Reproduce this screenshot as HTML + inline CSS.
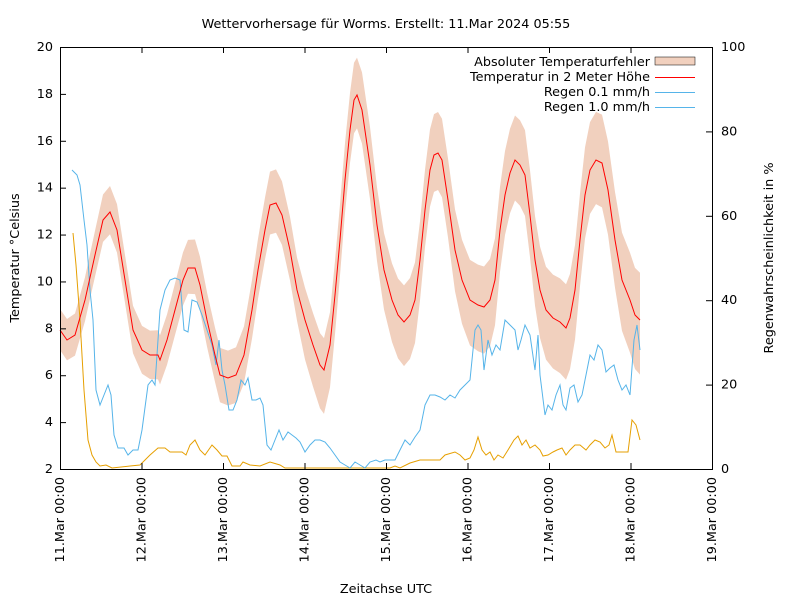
<!DOCTYPE html>
<html><head><meta charset="utf-8"><style>body{margin:0;background:#fff}svg{display:block}text{font-family:"DejaVu Sans","Liberation Sans",sans-serif;font-size:12.8px;fill:#000}</style></head>
<body>
<svg id="s" width="800" height="600" xmlns="http://www.w3.org/2000/svg">
<rect width="800" height="600" fill="#fff"/>
<text x="386" y="28" text-anchor="middle">Wettervorhersage für Worms. Erstellt: 11.Mar 2024 05:55</text>
<g id="band"></g>
<g id="series"></g>
<rect x="60.5" y="47.5" width="652" height="422" fill="none" stroke="#000" stroke-width="1"/>
<g id="ticks" stroke="#000" stroke-width="1"></g>
<g id="labels"></g>
<text transform="translate(19,258) rotate(-90)" text-anchor="middle">Temperatur °Celsius</text>
<text transform="translate(773,258) rotate(-90)" text-anchor="middle">Regenwahrscheinlichkeit in %</text>
<text x="386" y="593" text-anchor="middle">Zeitachse UTC</text>
<text x="650" y="66" text-anchor="end">Absoluter Temperaturfehler</text>
<rect x="655" y="57" width="40" height="8" fill="#f1d0be" stroke="#000" stroke-width="0.5"/>
<text x="650" y="81" text-anchor="end">Temperatur in 2 Meter Höhe</text>
<line x1="655" y1="77.5" x2="695" y2="77.5" stroke="#f00"/>
<text x="650" y="96" text-anchor="end">Regen 0.1 mm/h</text>
<line x1="655" y1="92.5" x2="695" y2="92.5" stroke="#56b4e9"/>
<text x="650" y="111" text-anchor="end">Regen 1.0 mm/h</text>
<line x1="655" y1="107.5" x2="695" y2="107.5" stroke="#56b4e9"/>
</svg>
<script>
var NS="http://www.w3.org/2000/svg";
function el(p,t,a,txt){var e=document.createElementNS(NS,t);for(var k in a)e.setAttribute(k,a[k]);if(txt)e.textContent=txt;document.getElementById(p).appendChild(e);return e;}
var T=[[60,330],[67,340],[75,335],[85,300],[95,255],[103,220],[110,212],[117,230],[125,280],[133,330],[142,350],[150,355],[158,355],[160,360],[167,340],[175,310],[183,280],[188,268],[195,268],[200,285],[207,320],[215,355],[220,375],[228,378],[236,375],[244,355],[252,310],[258,270],[265,230],[270,205],[276,203],[282,215],[290,250],[297,290],[305,320],[313,345],[320,365],[324,370],[330,345],[335,295],[340,240],[345,180],[350,130],[354,100],[357,95],[362,110],[370,165],[377,225],[384,270],[392,300],[398,315],[404,322],[410,315],[415,300],[420,260],[425,210],[430,170],[434,155],[438,153],[442,160],[448,200],[455,250],[462,280],[470,300],[478,305],[484,307],[490,300],[495,280],[500,230],[505,195],[510,173],[515,160],[520,165],[525,175],[530,215],[535,260],[540,290],[546,310],[553,318],[560,322],[566,328],[570,318],[575,290],[580,240],[585,195],[590,170],[596,160],[602,163],[608,190],[615,240],[622,280],[630,300],[635,315],[640,320]];
var up=[],lo=[];
T.forEach(function(p){var d=20+(p[0]-60)*0.045;var tr=(p[1]-200)/170;if(tr<0)tr=0;var ex=(p[0]>300?tr*12:0);up.push(p[0]+","+(p[1]-d-(1-tr)*4));lo.push(p[0]+","+(p[1]+d+ex));});
el("band","polygon",{points:up.join(" ")+" "+lo.reverse().join(" "),fill:"#f1d0be"});
var B="72,170 77,175 80,185 84,220 87,245 90,290 93,320 96,390 100,405 104,395 108,385 111,395 114,435 118,448 124,448 128,455 133,450 138,450 142,430 148,385 152,380 155,385 160,310 165,290 170,280 175,278 180,280 184,330 188,332 192,300 197,302 202,315 207,330 212,345 216,365 219,340 222,370 225,385 229,410 233,410 237,400 241,380 245,385 248,378 252,400 256,400 260,398 263,405 267,445 271,450 275,440 279,430 283,440 288,432 292,435 296,438 300,442 305,452 310,445 315,440 320,440 325,442 330,448 335,455 340,462 345,465 350,468 355,462 360,465 365,468 370,462 376,460 380,462 385,460 395,460 400,450 405,440 410,445 415,437 420,430 425,405 430,395 435,395 440,397 445,400 450,395 455,398 460,390 465,385 470,380 475,330 478,325 481,330 484,370 488,340 492,355 496,345 500,350 505,320 510,325 515,330 518,350 521,340 525,325 530,335 535,370 538,335 540,375 545,415 548,405 552,410 556,395 560,385 563,405 566,410 570,388 574,385 578,402 582,395 586,375 590,355 594,360 598,345 602,350 606,372 610,368 614,365 618,380 622,390 626,385 630,395 634,340 637,325 640,350";
var O="73,233 76,265 80,320 84,390 88,440 92,455 96,462 100,466 106,465 112,468 130,466 140,465 150,455 158,448 165,448 170,452 182,452 186,455 190,445 195,440 200,450 205,455 212,445 217,450 222,456 227,456 232,466 240,466 243,462 250,465 260,466 270,462 280,465 285,468 390,468 395,466 400,468 410,463 420,460 440,460 445,455 455,452 460,455 465,460 470,458 474,450 478,437 482,450 486,455 490,452 494,460 498,455 503,458 508,450 514,440 518,436 522,445 526,440 530,448 535,445 540,450 543,456 548,455 553,452 557,450 562,448 566,455 570,450 575,445 580,445 586,450 590,445 595,440 600,442 605,448 609,445 612,435 616,452 628,452 632,420 636,425 640,440";
el("series","polyline",{points:O,fill:"none",stroke:"#e69f00","stroke-width":1});
el("series","polyline",{points:B,fill:"none",stroke:"#56b4e9","stroke-width":1});
el("series","polyline",{points:T.map(function(p){return p.join(",")}).join(" "),fill:"none",stroke:"#f00","stroke-width":1});
for(var v=2;v<=20;v+=2){var y=469-(v-2)*422/18;el("ticks","line",{x1:60,x2:66,y1:y+.5,y2:y+.5});el("labels","text",{x:53,y:y+4,"text-anchor":"end"},String(v));}
for(var r=0;r<=100;r+=20){var y=469-r*4.22;el("ticks","line",{x1:706,x2:712,y1:y+.5,y2:y+.5});el("labels","text",{x:721,y:y+4},String(r));}
var days=["11","12","13","14","15","16","17","18","19"];
for(var i=0;i<9;i++){var x=60+i*81.5;el("ticks","line",{x1:x+.5,x2:x+.5,y1:463,y2:469});el("ticks","line",{x1:x+.5,x2:x+.5,y1:47,y2:53});el("labels","text",{transform:"translate("+(x+4)+",477) rotate(-90)","text-anchor":"end"},days[i]+".Mar 00:00");}
</script>
</body></html>
